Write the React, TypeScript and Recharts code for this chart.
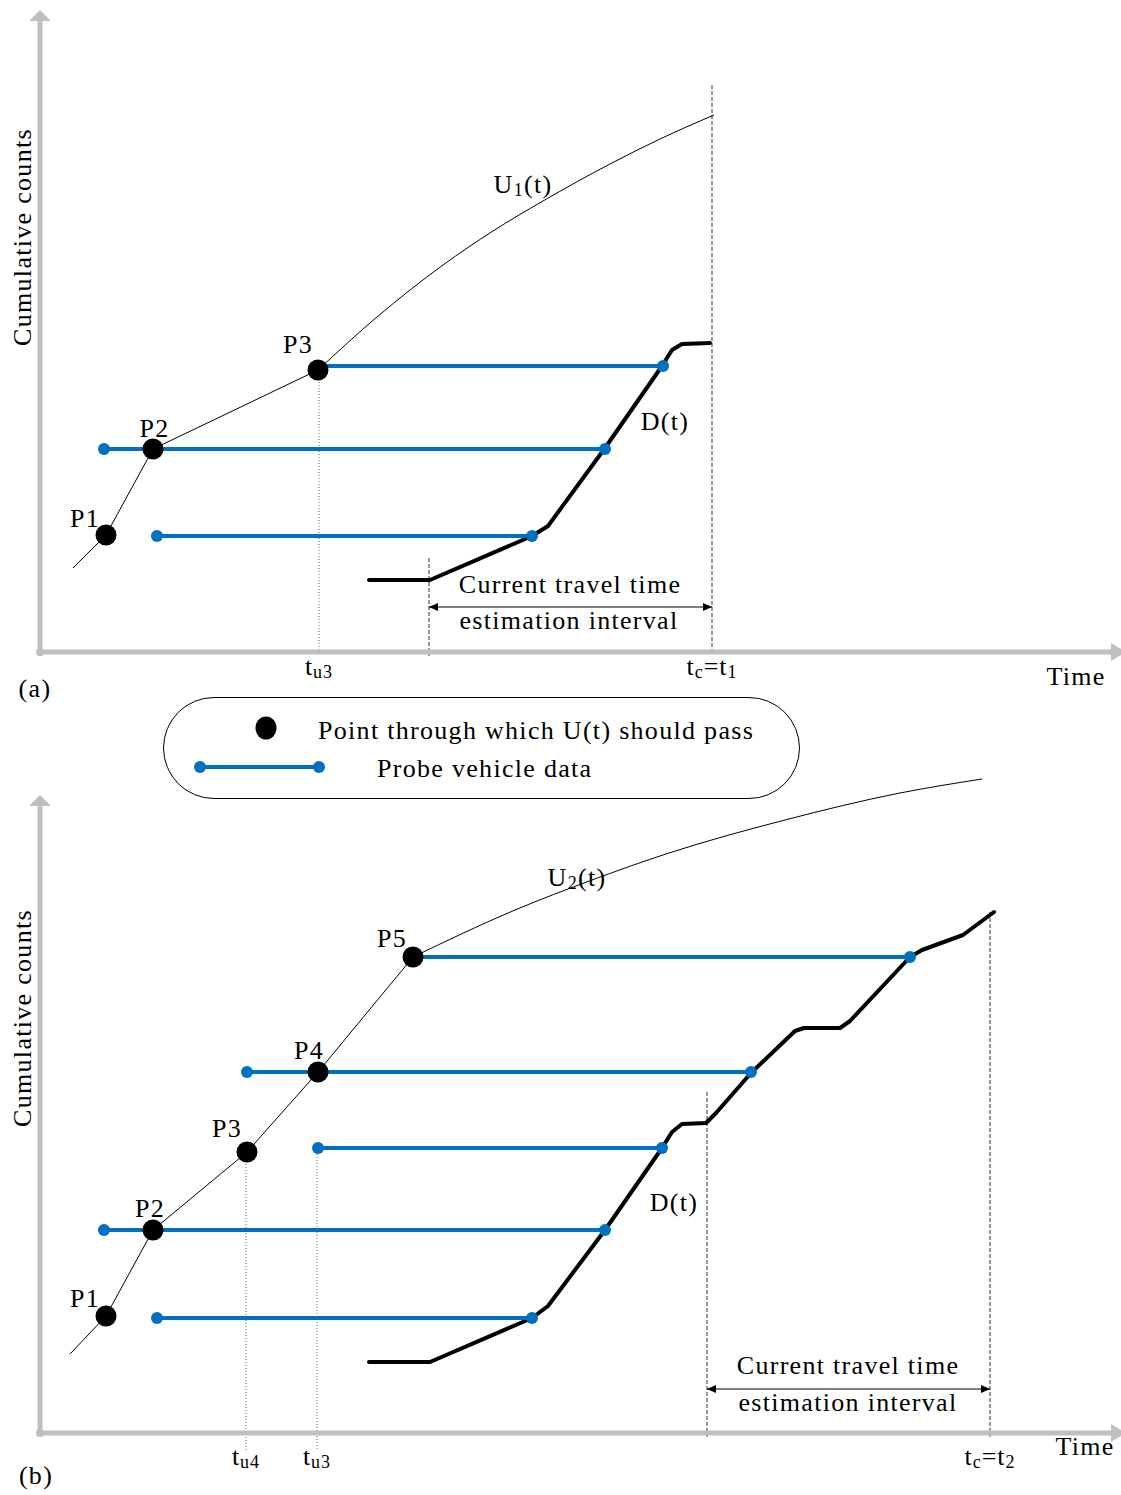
import React from "react";
import {
  ComposedChart,
  Line,
  Scatter,
  XAxis,
  YAxis,
  ReferenceLine,
  ReferenceDot,
} from "recharts";

const FONT = '"Liberation Serif", "Times New Roman", serif';
const BLUE = "#0070c0";
const GREY = "#bfbfbf";

// units: t = time, n = cumulative count (both arbitrary)

// ---- panel (a) ----
const upStraightA = [[3.3, 8.4], [6.6, 11.7], [11.3, 20.3], [27.8, 28.2]];
const upCurveA = [
  [27.8, 28.2], [33.7, 33.5], [40.3, 38.7], [45.3, 42.1],
  [50.3, 45.1], [57, 48.8], [62, 51.3], [67.4, 53.7],
];
const downA = [
  [32.9, 7.2], [39, 7.2], [49.2, 11.6], [50.8, 12.6], [56.5, 20.4], [62.2, 28.6],
  [63.2, 30.2], [64.2, 30.8], [67, 30.9],
];
// [from, to, count]
const probesA = [
  [11.7, 49.2, 11.6],
  [6.4, 56.5, 20.3],
  [27.8, 62.3, 28.6],
];
const passA = [[6.6, 11.7], [11.3, 20.3], [27.8, 28.2]];
const passNamesA = ["P1", "P2", "P3"];
const passNameSpotA = [[4.5, 12.5], [11.45, 21.5], [25.8, 29.9]];
const ticksA = [27.9, 67.2];
const tickTextA = ["t|u3", "t|c|=t|1"];
// [t, top, bottom, style]
const guidesA: [number, number, number, string][] = [
  [27.9, 28.2, 0, "dot"],
  [67.2, 56.7, 0, "dash"],
  [38.9, 9.4, -0.4, "dash"],
];
const intervalA = [38.9, 67.2, 4.5];
const notesA: [number, number, string][] = [
  [48.3, 45.9, "U|1|(t)"],
  [62.5, 22.2, "D(t)"],
  [53, 5.9, "Current travel time"],
  [52.9, 2.3, "estimation interval"],
  [103.6, -3.3, "Time"],
  [-0.5, -4.5, "(a)"],
];

// ---- panel (b) ----
const upStraightB = [[3, 7.9], [6.6, 11.7], [11.3, 20.3], [20.7, 28.1], [27.8, 36.1], [37.3, 47.6]];
const upCurveB = [
  [37.3, 47.6], [47.5, 52.3], [55.2, 55.3], [62.9, 58],
  [74.5, 61.3], [86, 64], [94.2, 65.4],
];
const downB = [
  [32.9, 7.1], [39, 7.1], [49.2, 11.5], [50.8, 12.7], [56.5, 20.3], [62.2, 28.5],
  [63.2, 30.1], [64.2, 30.9], [66.6, 31], [67.6, 32], [71.1, 36], [75.5, 40.2],
  [76.4, 40.5], [80, 40.5], [81, 41.2], [87, 47.6], [88.2, 48.3], [92.3, 49.8],
  [95.4, 52.1],
];
const probesB = [
  [11.7, 49.2, 11.5],
  [6.4, 56.5, 20.3],
  [27.8, 62.2, 28.5],
  [20.7, 71.1, 36.1],
  [37.3, 87, 47.6],
];
const passB = [[6.6, 11.7], [11.3, 20.3], [20.7, 28.1], [27.8, 36.1], [37.3, 47.6]];
const passNamesB = ["P1", "P2", "P3", "P4", "P5"];
const passNameSpotB = [[4.5, 12.6], [11, 21.6], [18.7, 29.6], [26.9, 37.4], [35.2, 48.6]];
const ticksB = [20.6, 27.7, 95];
const tickTextB = ["t|u4", "t|u3", "t|c|=t|2"];
const guidesB: [number, number, number, string][] = [
  [20.6, 28.1, -1.7, "dot"],
  [27.7, 28.5, -1.7, "dot"],
  [66.7, 34.1, -0.4, "dash"],
  [95, 52.1, -0.4, "dash"],
];
const intervalB = [66.7, 95, 4.4];
const notesB: [number, number, string][] = [
  [53.7, 54.7, "U|2|(t)"],
  [63.4, 22.2, "D(t)"],
  [80.8, 5.9, "Current travel time"],
  [80.8, 2.2, "estimation interval"],
  [104.5, -2.2, "Time"],
  [-0.4, -5.1, "(b)"],
];

const yTitle = "Cumulative counts";

const pts = (arr: number[][]) => arr.map(([t, n]) => ({ t, n }));

// "a|b|c" -> a, subscript b, c
function rich(text: string) {
  return text.split("|").map((p, i) =>
    i % 2 ? (
      <tspan key={i} fontSize={18} dy={3}>
        {p}
      </tspan>
    ) : (
      <tspan key={i} dy={i ? -3 : 0}>
        {p}
      </tspan>
    )
  );
}

const noteShape = (text: string, rotate = false) => (p: any) => (
  <text
    x={p.cx}
    y={p.cy}
    textAnchor="middle"
    fontFamily={FONT}
    fontSize={26}
    letterSpacing={1.3}
    fill="#000"
    transform={rotate ? `rotate(-90 ${p.cx} ${p.cy})` : undefined}
  >
    {rich(text)}
  </text>
);

function Panel(props: any) {
  const {
    height, xAxisHeight, xMax, yMax, axisTop, tickDrop,
    upStraight, upCurve, down, probes, pass, passNames, passNameSpot,
    ticks, tickText, guides, interval, notes,
  } = props;

  const tick = (p: any) => {
    const i = ticks.indexOf(p.payload.value);
    return (
      <text
        x={p.x}
        y={p.y + tickDrop}
        textAnchor="middle"
        fontFamily={FONT}
        fontSize={26}
        letterSpacing={1}
        fill="#000"
      >
        {rich(i >= 0 ? tickText[i] : "")}
      </text>
    );
  };

  return (
    <ComposedChart
      width={1121}
      height={height}
      margin={{ top: 0, right: 0, bottom: 0, left: 40 }}
    >
      <XAxis
        dataKey="t"
        type="number"
        domain={[0, xMax]}
        allowDataOverflow
        ticks={ticks}
        interval={0}
        height={xAxisHeight}
        axisLine={{ stroke: GREY, strokeWidth: 5 }}
        tickLine={false}
        tickSize={0}
        tickMargin={0}
        tick={tick}
      />
      <YAxis dataKey="n" type="number" domain={[0, yMax]} allowDataOverflow hide />

      {/* value axis with arrow */}
      <ReferenceLine
        segment={[{ x: 0, y: 0 }, { x: 0, y: axisTop }]}
        stroke={GREY}
        strokeWidth={5}
        ifOverflow="visible"
      />
      <ReferenceDot
        x={0}
        y={axisTop}
        ifOverflow="visible"
        shape={(p: any) => (
          <polygon
            points={`${p.cx - 11},${p.cy} ${p.cx + 11},${p.cy} ${p.cx},${p.cy - 11}`}
            fill={GREY}
          />
        )}
      />
      <ReferenceDot
        x={xMax - 1}
        y={0}
        ifOverflow="visible"
        shape={(p: any) => (
          <polygon
            points={`${p.cx},${p.cy - 9} ${p.cx},${p.cy + 9} ${p.cx + 15},${p.cy}`}
            fill={GREY}
          />
        )}
      />
      <ReferenceDot x={0} y={0} r={4} fill={GREY} stroke="none" ifOverflow="visible" />

      {guides.map(([t, top, bottom, style]: any, i: number) => (
        <ReferenceLine
          key={"g" + i}
          segment={[{ x: t, y: top }, { x: t, y: bottom }]}
          stroke={style === "dot" ? "#666" : "#333"}
          strokeWidth={1}
          strokeDasharray={style === "dot" ? "1 2" : "4 2"}
          ifOverflow="visible"
        />
      ))}

      {/* estimation interval */}
      <ReferenceLine
        segment={[{ x: interval[0], y: interval[2] }, { x: interval[1], y: interval[2] }]}
        stroke="#000"
        strokeWidth={1}
        ifOverflow="visible"
      />
      <ReferenceDot
        x={interval[0]}
        y={interval[2]}
        ifOverflow="visible"
        shape={(p: any) => (
          <polygon points={`${p.cx},${p.cy} ${p.cx + 9},${p.cy - 4} ${p.cx + 9},${p.cy + 4}`} fill="#000" />
        )}
      />
      <ReferenceDot
        x={interval[1]}
        y={interval[2]}
        ifOverflow="visible"
        shape={(p: any) => (
          <polygon points={`${p.cx},${p.cy} ${p.cx - 9},${p.cy - 4} ${p.cx - 9},${p.cy + 4}`} fill="#000" />
        )}
      />

      <Line
        data={pts(upStraight)}
        dataKey="n"
        type="linear"
        stroke="#000"
        strokeWidth={1}
        dot={false}
        isAnimationActive={false}
      />
      <Line
        data={pts(upCurve)}
        dataKey="n"
        type="monotone"
        stroke="#000"
        strokeWidth={1}
        dot={false}
        isAnimationActive={false}
      />
      <Line
        data={pts(down)}
        dataKey="n"
        type="linear"
        stroke="#000"
        strokeWidth={4}
        strokeLinejoin="round"
        strokeLinecap="round"
        dot={false}
        isAnimationActive={false}
      />
      {probes.map(([a, b, n]: number[], i: number) => (
        <Line
          key={"p" + i}
          data={[{ t: a, n }, { t: b, n }]}
          dataKey="n"
          type="linear"
          stroke={BLUE}
          strokeWidth={4}
          dot={{ r: 6, fill: BLUE, stroke: BLUE, strokeWidth: 0 }}
          isAnimationActive={false}
        />
      ))}
      <Scatter
        data={pts(pass)}
        fill="#000"
        isAnimationActive={false}
        shape={(p: any) => <circle cx={p.cx} cy={p.cy} r={10.5} fill="#000" />}
      />

      {passNames.map((name: string, i: number) => (
        <ReferenceDot
          key={"pn" + i}
          x={passNameSpot[i][0]}
          y={passNameSpot[i][1]}
          ifOverflow="visible"
          shape={noteShape(name)}
        />
      ))}
      {notes.map(([t, n, text]: any, i: number) => (
        <ReferenceDot key={"n" + i} x={t} y={n} ifOverflow="visible" shape={noteShape(text)} />
      ))}
      <ReferenceDot x={-0.9} y={41.5} ifOverflow="visible" shape={noteShape(yTitle, true)} />
    </ComposedChart>
  );
}

function LegendBox() {
  return (
    <svg width={670} height={120} style={{ position: "absolute", left: 150, top: 690 }}>
      <rect x={13.5} y={7.5} width={636} height={101} rx={50.5} fill="#fff" stroke="#000" strokeWidth={1} />
      <ellipse cx={116} cy={38} rx={10.5} ry={11.5} fill="#000" />
      <text x={168} y={49} fontFamily={FONT} fontSize={26} letterSpacing={1.3} fill="#000">
        Point through which U(t) should pass
      </text>
      <line x1={50} y1={77} x2={169} y2={77} stroke={BLUE} strokeWidth={4} />
      <circle cx={50} cy={77} r={6} fill={BLUE} />
      <circle cx={169} cy={77} r={6} fill={BLUE} />
      <text x={227} y={87} fontFamily={FONT} fontSize={26} letterSpacing={1.3} fill="#000">
        Probe vehicle data
      </text>
    </svg>
  );
}

export default function App() {
  return (
    <div
      style={{
        position: "absolute",
        left: 0,
        top: 0,
        width: 1121,
        height: 1495,
        background: "#fff",
        overflow: "hidden",
      }}
    >
      <div style={{ position: "absolute", left: 0, top: 0 }}>
        <Panel
          height={710}
          xAxisHeight={58}
          xMax={108.1}
          yMax={65.2}
          axisTop={63.1}
          tickDrop={23}
          upStraight={upStraightA}
          upCurve={upCurveA}
          down={downA}
          probes={probesA}
          pass={passA}
          passNames={passNamesA}
          passNameSpot={passNameSpotA}
          ticks={ticksA}
          tickText={tickTextA}
          guides={guidesA}
          interval={intervalA}
          notes={notesA}
        />
      </div>
      <LegendBox />
      <div style={{ position: "absolute", left: 0, top: 770 }}>
        <Panel
          height={725}
          xAxisHeight={62}
          xMax={108.1}
          yMax={66.3}
          axisTop={62.7}
          tickDrop={32}
          upStraight={upStraightB}
          upCurve={upCurveB}
          down={downB}
          probes={probesB}
          pass={passB}
          passNames={passNamesB}
          passNameSpot={passNameSpotB}
          ticks={ticksB}
          tickText={tickTextB}
          guides={guidesB}
          interval={intervalB}
          notes={notesB}
        />
      </div>
    </div>
  );
}
